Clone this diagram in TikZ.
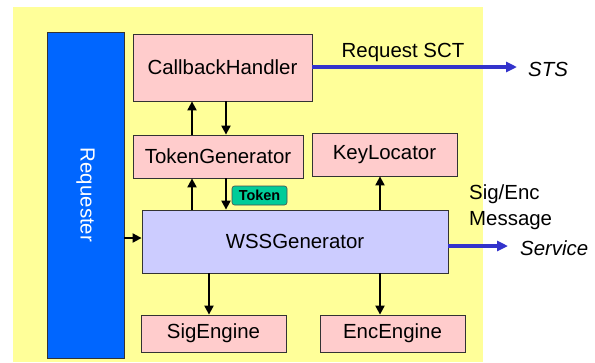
\documentclass[tikz,border=0pt]{standalone}
\usepackage{fontspec}
\setmainfont{Liberation Sans}
\usetikzlibrary{arrows.meta}
\definecolor{bgyellow}{HTML}{FFFF99}
\definecolor{boxpink}{HTML}{FFCCCC}
\definecolor{boxlav}{HTML}{CCCCFF}
\definecolor{reqblue}{HTML}{0066FF}
\definecolor{linkblue}{HTML}{3333CC}
\definecolor{tokgreen}{HTML}{00CC99}
\tikzset{
  comp/.style={draw=black!80, line width=0.8bp, inner sep=0pt, align=center,
    font=\fontsize{20.5}{24}\selectfont},
  pinkbox/.style={comp, fill=boxpink},
  flow/.style={line width=2bp, -{Triangle[length=9bp,width=9bp]}},
  ext/.style={draw=linkblue, line width=3.5bp, -{Triangle[length=11bp,width=10bp]}},
  lbl/.style={inner sep=0pt, font=\fontsize{20.5}{24}\selectfont}
}
\begin{document}
\begin{tikzpicture}[x=1bp, y=-1bp]
\useasboundingbox (0,0) rectangle (595,362);
% background panel
\fill[bgyellow] (13,7) rectangle (483,362);

% components
\node[comp, fill=reqblue, minimum width=77bp, minimum height=326bp] (req) at (85.5,195) {};
\node[rotate=-90, text=white, lbl] at (req.center) {Requester};
\node[pinkbox, minimum width=179bp, minimum height=67bp] (ch) at (222.5,67.5) {CallbackHandler};
\node[pinkbox, minimum width=170bp, minimum height=43bp] (tg) at (218,156.5) {TokenGenerator};
\node[pinkbox, minimum width=145bp, minimum height=43bp] (kl) at (384.5,154.5) {KeyLocator};
\node[comp, fill=boxlav, minimum width=306bp, minimum height=63bp] (wss) at (295,241.5) {WSSGenerator};
\node[pinkbox, minimum width=145bp, minimum height=37bp] (sig) at (213.5,333.5) {SigEngine};
\node[pinkbox, minimum width=145bp, minimum height=37bp] (enc) at (392.5,333.5) {EncEngine};
\node[draw=black!70, line width=0.6bp, fill=tokgreen, rounded corners=2.5bp,
  minimum width=55bp, minimum height=19bp, inner sep=0pt,
  font=\fontsize{14.5}{16}\selectfont\bfseries] (tok) at (259.5,195.5) {Token};

% vertical lanes for the arrows
\coordinate (up) at (192,0);
\coordinate (down) at (226,0);
\coordinate (kx) at (380,0);
\coordinate (sx) at (209,0);

\draw[flow] (up |- tg.north) -- (up |- ch.south);
\draw[flow] (down |- ch.south) -- (down |- tg.north);
\draw[flow] (up |- wss.north) -- (up |- tg.south);
\draw[flow] (down |- tg.south) -- (down |- wss.north);
\draw[flow] (kx |- wss.north) -- (kx |- kl.south);
\draw[flow] (sx |- wss.south) -- (sx |- sig.north);
\draw[flow] (kx |- wss.south) -- (kx |- enc.north);
\coordinate (ry) at (0,238);
\draw[flow] (req.east |- ry) -- (wss.west |- ry);

% outgoing messages
\coordinate (sts) at (517,67);
\coordinate (svc) at (508,246);
\draw[ext] (ch.east |- sts) -- (sts);
\draw[ext] (wss.east |- svc) -- (svc);

\node[lbl, anchor=base] at (403,57) {Request SCT};
\node[lbl, anchor=base west] at (528,76) {\itshape STS};
\node[lbl, anchor=base west] at (520,255) {\itshape Service};
\node[lbl, anchor=base west] at (469,199) {Sig/Enc};
\node[lbl, anchor=base west] at (469,225) {Message};
\end{tikzpicture}
\end{document}
